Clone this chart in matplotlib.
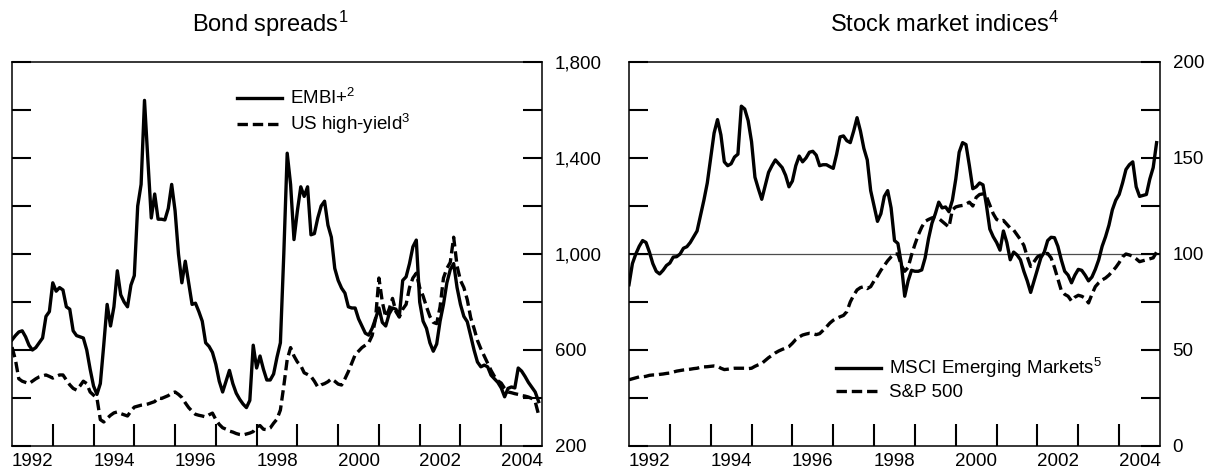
import matplotlib
matplotlib.use("Agg")
import matplotlib.pyplot as plt
import numpy as np
from matplotlib.ticker import MultipleLocator, FixedLocator, FuncFormatter

plt.rcParams["font.family"] = ["Liberation Sans", "DejaVu Sans"]
plt.rcParams["mathtext.fontset"] = "custom"
plt.rcParams["mathtext.rm"] = "Liberation Sans"
plt.rcParams["mathtext.it"] = "Liberation Sans"
plt.rcParams["lines.scale_dashes"] = False

# monthly data, Jan 1992 - Dec 2004
start_year = 1992

embi = [642, 660, 675, 680, 655, 620, 600, 610, 630, 650, 740, 760,
        880, 845, 860, 850, 780, 770, 680, 660, 655, 650, 600, 520,
        450, 415, 460, 620, 790, 700, 780, 930, 830, 800, 780, 870,
        910, 1200, 1290, 1640, 1390, 1150, 1250, 1145, 1145, 1142, 1190, 1290,
        1180, 1000, 880, 970, 880, 790, 795, 760, 720, 630, 615, 590,
        540, 470, 425, 470, 515, 460, 420, 395, 375, 360, 390, 620,
        525, 575, 520, 475, 475, 500, 570, 630, 1000, 1420, 1290, 1060,
        1180, 1280, 1240, 1280, 1080, 1085, 1150, 1200, 1220, 1120, 1070, 940,
        890, 858, 837, 780, 775, 775, 730, 700, 670, 662, 690, 730,
        775, 715, 700, 750, 775, 770, 740, 890, 905, 960, 1030, 1058,
        800, 720, 690, 630, 595, 625, 720, 790, 880, 935, 960, 860,
        790, 740, 718, 660, 600, 550, 530, 537, 530, 495, 480, 465,
        442, 405, 440, 446, 442, 525, 512, 490, 465, 445, 425, 385]

us_hy = [612, 560, 480, 470, 465, 460, 470, 480, 488, 492, 496, 490,
         483, 490, 496, 496, 475, 455, 440, 433, 450, 470, 460, 425,
         412, 400, 310, 300, 315, 328, 338, 342, 335, 330, 325, 345,
         362, 366, 370, 372, 375, 380, 385, 400, 398, 404, 410, 420,
         425, 415, 402, 380, 360, 345, 332, 328, 325, 321, 330, 337,
         310, 290, 276, 270, 262, 258, 252, 248, 246, 250, 254, 260,
         280, 285, 270, 268, 275, 295, 312, 350, 450, 560, 610, 575,
         550, 535, 505, 498, 490, 470, 446, 455, 460, 468, 480, 470,
         458, 454, 480, 510, 545, 580, 595, 610, 620, 630, 660, 730,
         900, 800, 737, 770, 815, 760, 737, 770, 790, 860, 900, 920,
         860, 825, 780, 740, 715, 710, 780, 900, 940, 965, 1070, 950,
         890, 860, 810, 735, 690, 640, 605, 575, 545, 515, 490, 472,
         462, 440, 425, 422, 418, 415, 410, 408, 404, 398, 385, 330]

msci = [84, 95, 100, 104, 107, 106, 101, 95, 91, 89.6, 91.5, 94,
        95.3, 98.4, 98.6, 100, 103, 103.8, 106, 109, 112, 120, 128, 137,
        150, 163, 170, 162, 148, 146, 147, 150.5, 152, 177, 175.5, 169.5,
        158.5, 140, 134, 128.5, 135.5, 142.5, 146, 149, 147, 145, 141, 135,
        138, 146, 151, 148, 150, 153, 153.5, 151.5, 146, 146.5, 146.5, 145.5,
        144.6, 152, 161, 161.5, 159, 158, 164, 171, 164, 155, 149, 133,
        125, 117, 121, 130, 133, 124, 107, 105.5, 95, 78, 86, 91.5,
        91, 91, 91.7, 98, 108, 116, 121, 127, 124, 124.5, 122, 128,
        139, 153, 158, 157, 146, 134, 135, 137, 136, 125.5, 113, 109,
        106, 102, 112, 106, 97, 101, 99.5, 97, 91, 86, 80, 86,
        92, 98, 101, 107, 108.7, 108.5, 104, 97, 91, 89, 85, 89,
        92, 91.5, 89, 86, 88, 92, 97, 104, 109, 115, 123, 128,
        131, 137, 144, 146.5, 148, 135, 130, 130.5, 131, 139, 145, 158]

spx = [34.5, 35, 35.5, 36, 36, 36.3, 36.8, 37, 37, 37.3, 37.5, 37.8,
       38, 38.5, 39, 39.3, 39.6, 39.8, 40, 40.3, 40.5, 41, 41.2, 41.3,
       41.5, 41.7, 41.5, 40.5, 39.8, 40, 40.3, 40.5, 40.5, 40.5, 40.5, 40.3,
       40.5, 41.5, 42.3, 43, 44.5, 46, 47.2, 48.5, 49.5, 50.3, 51, 51.8,
       53.5, 55.5, 56.8, 57.8, 58.3, 58.7, 58.5, 58, 58.5, 60.2, 62, 64,
       65.5, 66.5, 67.3, 68, 70, 75, 78.5, 81.3, 82.5, 83, 82, 83,
       86, 88.5, 91.5, 94, 96.5, 98.5, 100, 100, 94, 91, 93, 99.5,
       105, 110, 114, 117, 118, 118.8, 119.2, 118.5, 117, 115.5, 114, 123,
       124.5, 125, 125.3, 126, 127, 125, 129.5, 131, 131.3, 130, 125.5, 121,
       118, 117, 117.5, 115.5, 113.5, 112.5, 110, 107.5, 104.5, 98.6, 93.5, 96,
       98.5, 99.5, 100, 100.3, 98, 93, 87, 81, 79, 78, 75.5, 77.5,
       78.5, 78, 77, 74.5, 79, 83, 85, 86.5, 87.5, 89, 91, 93,
       95.5, 98.5, 100, 99.5, 98.8, 97.5, 96, 96.5, 97, 97.5, 98, 101]

year_labels = ["1992", "1994", "1996", "1998", "2000", "2002", "2004"]

t = start_year + np.arange(len(embi)) / 12.0

fig = plt.figure(figsize=(12.06, 4.68), dpi=100)
ax1 = fig.add_axes([12 / 1206, 22 / 468, 530 / 1206, 384 / 468])
ax2 = fig.add_axes([629 / 1206, 22 / 468, 531 / 1206, 384 / 468])

lw = 2.4
dash = (0, (7.5, 3.5))
fs = 13.5


def style_axis(ax, ylim, step, label_every, fmt):
    ax.set_xlim(1992, 2005)
    ax.set_ylim(*ylim)
    for s in ax.spines.values():
        s.set_linewidth(1.1)
    ax.yaxis.tick_right()
    ax.yaxis.set_major_locator(MultipleLocator(step))
    ax.yaxis.set_major_formatter(FuncFormatter(
        lambda v, p: fmt(v) if abs((v - ylim[0]) % label_every) < 1e-6 else ""))
    ax.tick_params(axis="y", which="major", direction="in", length=13.5, width=1.5,
                   left=True, right=True, labelleft=False, labelright=True,
                   labelsize=fs, pad=9)
    ax.xaxis.set_major_locator(FixedLocator(np.arange(1993, 2005)))
    ax.xaxis.set_major_formatter(FuncFormatter(lambda v, p: ""))
    ax.set_xticks([int(y) + 0.5 for y in year_labels], year_labels, minor=True)
    ax.tick_params(axis="x", which="major", direction="in", length=16, width=1.5)
    ax.tick_params(axis="x", which="minor", length=0, labelsize=fs, pad=5)


# left: bond spreads
ax1.plot(t, embi, color="black", lw=lw, label="EMBI+$^2$")
ax1.plot(t, us_hy, color="black", lw=lw, linestyle=dash, label="US high-yield$^3$")
style_axis(ax1, (200, 1800), 200, 400, lambda v: f"{v:,.0f}")
ax1.legend(loc="upper left", bbox_to_anchor=(0.4245, 0.932), frameon=False,
           fontsize=fs, handlelength=2.4, handletextpad=0.45, borderpad=0,
           borderaxespad=0, labelspacing=0.22)
ax1.text(0.34, 1.078, "Bond spreads$^1$", transform=ax1.transAxes,
         fontsize=17, ha="left", va="baseline")

# right: stock market indices
ax2.axhline(100, color="0.3", lw=0.9, zorder=1)
ax2.plot(t, msci, color="black", lw=lw, label="MSCI Emerging Markets$^5$")
ax2.plot(t, spx, color="black", lw=lw, linestyle=dash, label="S&P 500")
style_axis(ax2, (0, 200), 25, 50, lambda v: f"{v:.0f}")
ax2.legend(loc="upper left", bbox_to_anchor=(0.389, 0.234), frameon=False,
           fontsize=fs, handlelength=2.4, handletextpad=0.45, borderpad=0,
           borderaxespad=0, labelspacing=0.22)
ax2.text(0.3785, 1.078, "Stock market indices$^4$", transform=ax2.transAxes,
         fontsize=17, ha="left", va="baseline")

fig.savefig("out.png", dpi=100)
